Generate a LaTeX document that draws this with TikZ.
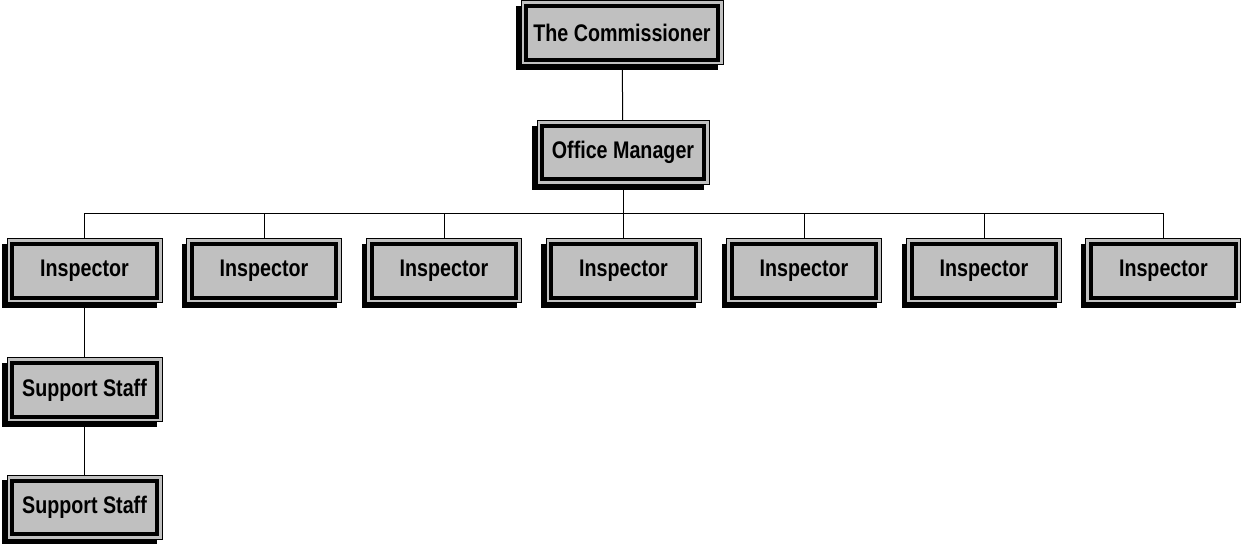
\documentclass[tikz,border=0pt]{standalone}
\usepackage{fontspec}
\newfontfamily\orgfont{Liberation Sans}[FakeStretch=0.82]
\usetikzlibrary{shadows,positioning}
\definecolor{boxgray}{RGB}{192,192,192}

\begin{document}
\begin{tikzpicture}[
  post/.style={draw,fill=boxgray,line width=0.03cm,minimum height=1.92cm,inner sep=0pt,
    font=\orgfont\bfseries\fontsize{20.5}{24}\selectfont,
    drop shadow={shadow xshift=-0.15cm,shadow yshift=-0.15cm,fill=black,opacity=1},
    path picture={\draw[line width=0.12cm]
      ([shift={(0.16cm,-0.16cm)}]path picture bounding box.north west) rectangle
      ([shift={(-0.16cm,0.16cm)}]path picture bounding box.south east);}},
  link/.style={line width=0.03cm}]
  \useasboundingbox (0,0) rectangle (37.23,-16.38);
  \node[post,minimum width=6.06cm] (comm) at (18.66,-0.99) {The Commissioner};
  \node[post,minimum width=5.16cm] (om) at (18.69,-4.58) {Office Manager};
  \foreach \i/\x in {1/2.535,2/7.92,3/13.32,4/18.705,5/24.12,6/29.52,7/34.9}
    \node[post,minimum width=4.65cm] (ins\i) at (\x,-8.13) {Inspector};
  \node[post,minimum width=4.65cm] (ss1) at (2.535,-11.7) {Support Staff};
  \node[post,minimum width=4.65cm] (ss2) at (2.535,-15.22) {Support Staff};
  \coordinate (bus) at (18.69,-6.42);
  \draw[link] (comm) -- (om);
  \draw[link] (om) -- (bus);
  \foreach \i in {1,...,7}
    \draw[link] (bus) -| (ins\i);
  \draw[link] (ins1) -- (ss1);
  \draw[link] (ss1) -- (ss2);
\end{tikzpicture}
\end{document}
